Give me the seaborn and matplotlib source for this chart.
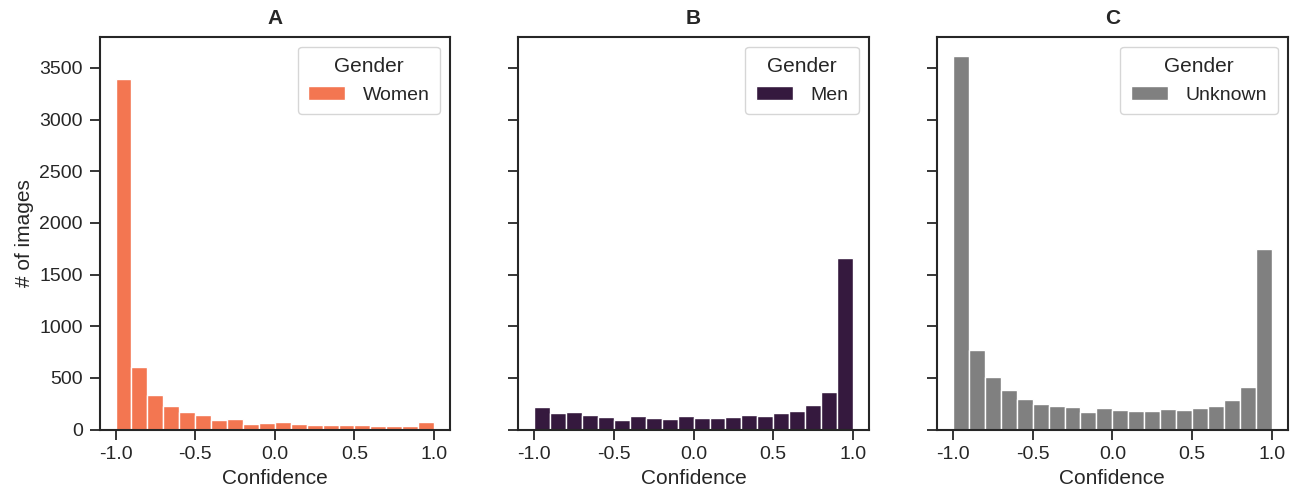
import numpy as np
import pandas as pd
import matplotlib
matplotlib.use("Agg")
import matplotlib.pyplot as plt
import seaborn as sns

# Bin centres of the confidence histogram (20 bins from -1 to 1)
bin_centres = np.round(np.arange(-0.95, 1.0, 0.1), 2)

# Counts per bin
women_counts = [3390, 606, 332, 232, 168, 145, 90, 100, 58, 68,
                71, 55, 42, 48, 42, 42, 39, 39, 39, 71]
men_counts = [216, 158, 168, 142, 126, 94, 132, 110, 103, 132,
              116, 113, 123, 145, 132, 158, 181, 235, 368, 1661]
unknown_counts = [3619, 774, 506, 384, 297, 248, 229, 219, 171, 213,
                  194, 181, 177, 197, 187, 210, 229, 287, 413, 1745]

groups = ["Women", "Men", "Unknown"]
panel_titles = ["A", "B", "C"]
colors = {"Women": "#f37651", "Men": "#35193e", "Unknown": "#808080"}

sns.set_theme(style="ticks")
plt.rcParams["font.family"] = ["Liberation Sans", "DejaVu Sans"]
plt.rcParams["axes.unicode_minus"] = False

fig, axes = plt.subplots(1, 3, figsize=(12.94, 4.91), dpi=100, sharey=True)

for ax, group, counts, title in zip(axes, groups,
                                    [women_counts, men_counts, unknown_counts],
                                    panel_titles):
    df = pd.DataFrame({"Confidence": bin_centres, "count": counts,
                       "Gender": group})
    sns.histplot(data=df, x="Confidence", weights="count", hue="Gender",
                 bins=20, binrange=(-1, 1), palette=colors, alpha=1,
                 edgecolor="white", linewidth=1, ax=ax)
    ax.set_title(title, fontsize=15, fontweight="bold", pad=9)
    ax.set_xlabel("Confidence", fontsize=15, labelpad=4)
    ax.set_ylabel("# of images", fontsize=15)
    ax.set_xticks([-1.0, -0.5, 0.0, 0.5, 1.0])
    ax.set_xlim(-1.1, 1.1)
    ax.set_ylim(0, 3800)
    ax.set_yticks(np.arange(0, 3501, 500))
    ax.tick_params(labelsize=14, length=7, width=1.3, pad=5)
    for s in ax.spines.values():
        s.set_linewidth(1.5)
    sns.move_legend(ax, "upper right", title="Gender", fontsize=14,
                    title_fontsize=15, handlelength=1.9, borderpad=0.55,
                    handletextpad=0.9)

axes[1].set_ylabel("")
axes[2].set_ylabel("")

plt.subplots_adjust(left=0.077, right=0.995, bottom=0.125, top=0.925, wspace=0.195)
plt.savefig("out.png", dpi=100)
